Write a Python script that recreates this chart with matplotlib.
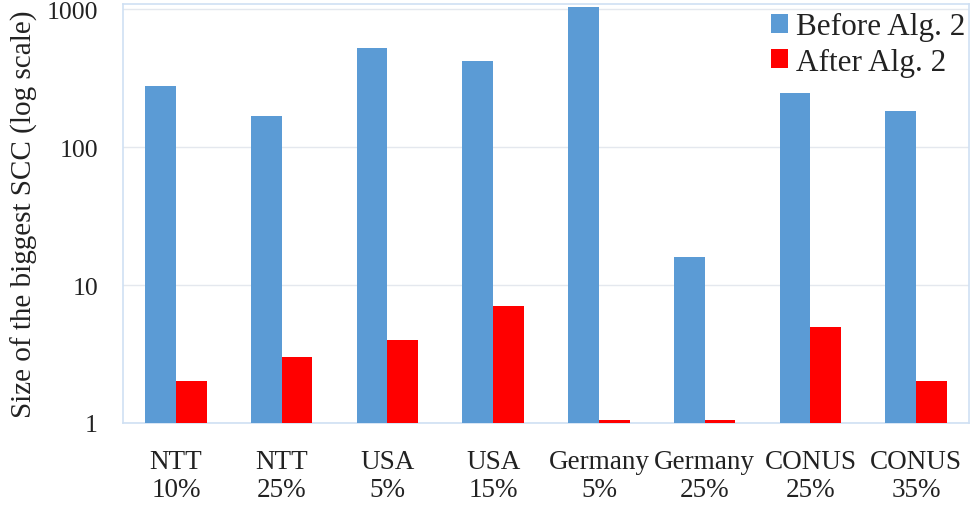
import numpy as np
import matplotlib.pyplot as plt
from matplotlib.ticker import FixedLocator, NullLocator

categories = ["NTT\n10%", "NTT\n25%", "USA\n5%", "USA\n15%",
              "Germany\n5%", "Germany\n25%", "CONUS\n25%", "CONUS\n35%"]
before_alg2 = [277, 168, 522, 420, 1035, 16, 246, 183]
after_alg2 = [2, 3, 4, 7, 1.05, 1.05, 5, 2]
yticks = [1, 10, 100, 1000]

plt.rcParams['font.family'] = ['Liberation Serif', 'DejaVu Serif']

fig = plt.figure(figsize=(9.71, 5.06), dpi=100)
ax = fig.add_axes([123 / 971, 82 / 506, 846 / 971, 419 / 506])

x = np.arange(len(categories))
w = 0.29
ax.bar(x - w / 2, before_alg2, w, color='#5b9bd5', label='Before Alg. 2', zorder=3)
ax.bar(x + w / 2, after_alg2, w, color='#ff0000', label='After Alg. 2', zorder=3)

ax.set_yscale('log')
ax.set_ylim(1, 1090)
ax.set_xlim(-0.5, len(categories) - 0.5)
ax.yaxis.set_major_locator(FixedLocator(yticks))
ax.yaxis.set_minor_locator(NullLocator())
ax.set_yticks(yticks, [str(t) for t in yticks])
ax.set_xticks(x, categories)
ax.tick_params(axis='both', length=0, colors='#222222')
ax.tick_params(axis='y', pad=18, labelsize=18.5)
ax.tick_params(axis='x', pad=19, labelsize=19.5)
for lab in ax.get_xticklabels():
    lab.set_linespacing(1.15)
ax.grid(axis='y', color='#e4e8ee', linewidth=1, zorder=0)
for s in ax.spines.values():
    s.set_color('#cfe0f3')
    s.set_linewidth(1.2)

ax.set_ylabel('Size of the biggest SCC (log scale)', fontsize=21, color='#222222')
ax.yaxis.set_label_coords(-85 / 846, 0.5)

ax.legend(loc='upper right', bbox_to_anchor=(1.018, 1.025), frameon=False, fontsize=22.5,
          handlelength=0.55, handleheight=0.55, handletextpad=0.25, labelspacing=0.2,
          borderpad=0.1, labelcolor='#222222')

fig.savefig('out.png', dpi=100)
